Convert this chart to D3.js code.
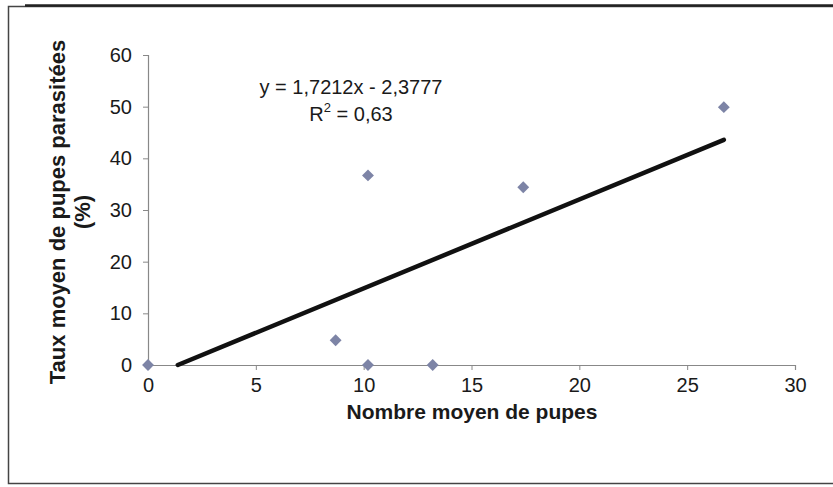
<!DOCTYPE html>
<html>
<head>
<meta charset="utf-8">
<script src="https://cdn.jsdelivr.net/npm/d3@7"></script>
<style>
  body { margin: 0; background: #fff; }
  svg { display: block; font-family: "Liberation Sans", Arial, sans-serif; }
</style>
</head>
<body>
<div id="chart"></div>
<script>
// nombre moyen de pupes / taux moyen de pupes parasitees (%)
var pupes = [0, 8.7, 10.2, 10.2, 13.2, 17.4, 26.7];
var tauxParasites = [0, 4.8, 0, 36.7, 0, 34.4, 49.9];
var xTicks = [0, 5, 10, 15, 20, 25, 30];
var yTicks = [0, 10, 20, 30, 40, 50, 60];
var pente = 1.7212, origine = -2.3777;

var width = 833, height = 487;

var svg = d3.select('#chart').append('svg')
    .attr('width', width)
    .attr('height', height);

// cadre du graphique
svg.append('rect')
    .attr('x', 8.5).attr('y', 6.5)
    .attr('width', 830).attr('height', 477)
    .attr('fill', 'none')
    .attr('stroke', '#444')
    .attr('stroke-width', 1.5);
svg.append('line')
    .attr('x1', 25).attr('x2', 833)
    .attr('y1', 5.5).attr('y2', 5.5)
    .attr('stroke', '#222').attr('stroke-width', 2.5);

var x = d3.scaleLinear().domain([0, 30]).range([148, 795]);
var y = d3.scaleLinear().domain([0, 60]).range([365, 55]);

// axes
var xAxis = svg.append('g')
    .attr('transform', 'translate(0,' + y(0) + ')')
    .call(d3.axisBottom(x).tickValues(xTicks).tickSize(5).tickPadding(8));
var yAxis = svg.append('g')
    .attr('transform', 'translate(' + x(0) + ',0)')
    .call(d3.axisLeft(y).tickValues(yTicks).tickSize(5).tickPadding(11));

[xAxis, yAxis].forEach(function(a) {
    a.select('.domain').attr('stroke', '#888').attr('stroke-width', 1.2);
    a.selectAll('.tick line').attr('stroke', '#888');
    a.selectAll('text')
        .attr('font-size', 20)
        .attr('fill', '#1a1a1a')
        .attr('font-family', '"Liberation Sans", Arial, sans-serif');
});

// droite de regression
var xMin = -origine / pente;
var xMax = d3.max(pupes);
svg.append('line')
    .attr('x1', x(xMin)).attr('y1', y(pente * xMin + origine))
    .attr('x2', x(xMax)).attr('y2', y(pente * xMax + origine))
    .attr('stroke', '#111')
    .attr('stroke-width', 4.5)
    .attr('stroke-linecap', 'round');

// points (losanges)
var points = pupes.map(function(d, i) { return { x: d, y: tauxParasites[i] }; });
svg.selectAll('path.pt')
    .data(points)
    .enter()
    .append('path')
    .attr('class', 'pt')
    .attr('d', d3.symbol().type(d3.symbolDiamond2).size(90))
    .attr('transform', function(d) {
        return 'translate(' + x(d.x) + ',' + y(d.y) + ')';
    })
    .attr('fill', '#7d84a6');

// equation
svg.append('text')
    .attr('x', 351).attr('y', 94)
    .attr('text-anchor', 'middle')
    .attr('font-size', 20)
    .attr('fill', '#1a1a1a')
    .text('y = 1,7212x - 2,3777');
var r2 = svg.append('text')
    .attr('x', 351).attr('y', 121)
    .attr('text-anchor', 'middle')
    .attr('font-size', 20)
    .attr('fill', '#1a1a1a');
r2.append('tspan').text('R');
r2.append('tspan').attr('font-size', 13).attr('dy', -9).text('2');
r2.append('tspan').attr('dy', 9).text(' = 0,63');

// titres des axes
svg.append('text')
    .attr('x', 472).attr('y', 419)
    .attr('text-anchor', 'middle')
    .attr('font-size', 21)
    .attr('font-weight', 'bold')
    .attr('fill', '#1a1a1a')
    .text('Nombre moyen de pupes');

var yTitle = svg.append('text')
    .attr('transform', 'translate(65,212) rotate(-90)')
    .attr('text-anchor', 'middle')
    .attr('font-size', 22)
    .attr('font-weight', 'bold')
    .attr('fill', '#1a1a1a');
yTitle.append('tspan').attr('x', 0).attr('y', 0).text('Taux moyen de pupes parasitées');
yTitle.append('tspan').attr('x', 0).attr('y', 25).text('(%)');
</script>
</body>
</html>
